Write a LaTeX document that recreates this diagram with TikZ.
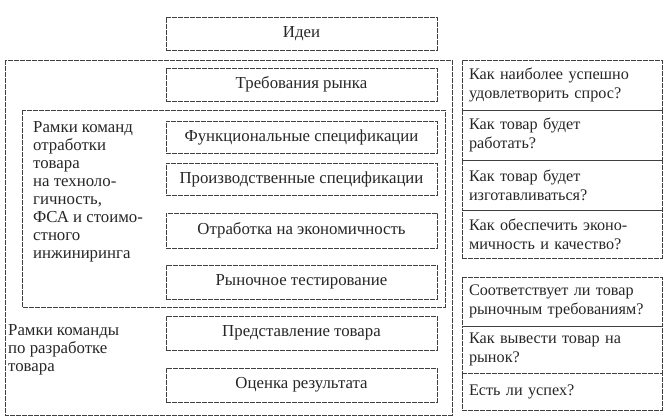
\documentclass[tikz,border=0pt]{standalone}
\usepackage{fontspec}
\setmainfont{Liberation Serif}
\begin{document}
\begin{tikzpicture}[x=1pt,y=-1pt,
  frame/.style={draw=black!75, line width=0.6pt, dash pattern=on 5pt off 1pt},
  box/.style={frame, rectangle, minimum width=271pt, inner sep=0pt, text=black!85, font=\fontsize{16.8}{18}\selectfont},
  row/.style={frame, rectangle, minimum width=200pt, text width=186pt, align=left, inner sep=0pt, text=black!85, font=\fontsize{16.2}{19}\selectfont},
  lbl/.style={anchor=north west, inner sep=0pt, align=left, text=black!85, font=\fontsize{16.8}{18}\selectfont}]
\useasboundingbox (0,0) rectangle (665,420);
% outer frames
\draw[frame] (5,60) rectangle (452,415);
\draw[frame] (22,110) rectangle (445,307);
% middle column
\node[box, minimum height=33pt] (idei) at (301.5,33.5) {Идеи};
\node[box, minimum height=33pt] (req) at (301.5,84.5) {Требования рынка};
\node[box, minimum height=32pt] (func) at (301.5,137) {Функциональные спецификации};
\node[box, minimum height=32pt] (prod) at (301.5,179) {Производственные спецификации};
\node[box, minimum height=35pt] (econ) at (301.5,230.5) {Отработка на экономичность};
\node[box, minimum height=34pt] (test) at (301.5,282) {Рыночное тестирование};
\node[box, minimum height=34pt] (pres) at (301.5,333) {Представление товара};
\node[box, minimum height=34pt] (eval) at (301.5,385) {Оценка результата};
% left labels
\node[lbl] (lab1) at (33,121) {Рамки команд\\отработки\\товара\\на техноло-\\гичность,\\ФСА и стоимо-\\стного\\инжиниринга};
\node[lbl] (lab2) at (8,324) {Рамки команды\\по разработке\\товара};
% right column
\node[row, minimum height=50pt] (q1) at (562,85) {Как наиболее успешно\\удовлетворить спрос?};
\node[row, minimum height=50pt] (q2) at (562,135) {Как товар будет\\работать?};
\node[row, minimum height=50pt] (q3) at (562,185) {Как товар будет\\изготавливаться?};
\node[row, minimum height=48pt] (q4) at (562,234) {Как обеспечить эконо-\\мичность и качество?};
\node[row, minimum height=49pt] (q5) at (562,301.5) {Соответствует ли товар\\рыночным требованиям?};
\node[row, minimum height=47pt] (q6) at (562,349.5) {Как вывести товар на\\рынок?};
\node[row, minimum height=37pt] (q7) at (562,391.5) {Есть ли успех?};
\end{tikzpicture}
\end{document}
